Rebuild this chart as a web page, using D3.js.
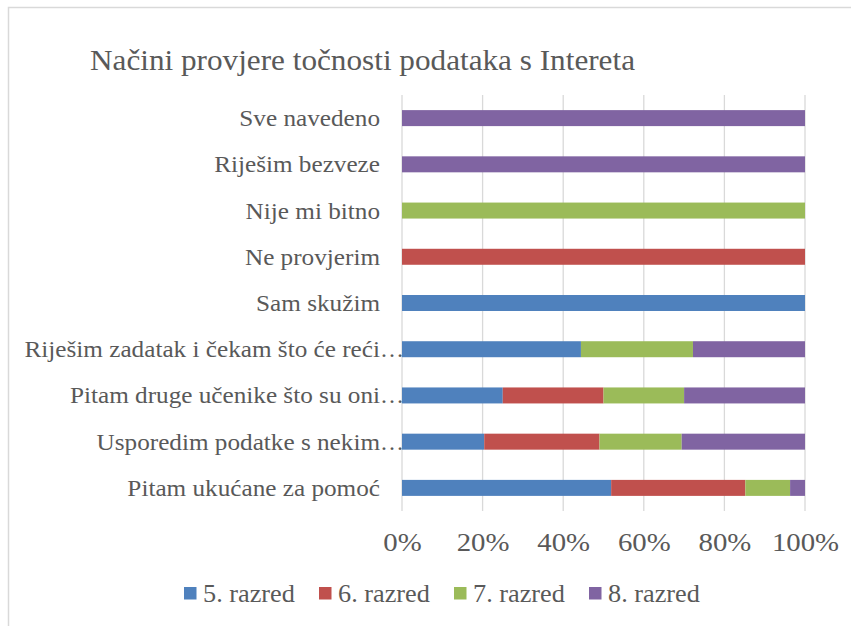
<!DOCTYPE html>
<html>
<head>
<meta charset="utf-8">
<script src="https://cdn.jsdelivr.net/npm/d3@7"></script>
<style>
    body { margin: 0; background: #fff; }
    svg text { font-family: "Liberation Serif", serif; fill: #595959; }
</style>
</head>
<body>
<svg id="chart" width="851" height="626"></svg>
<script>
// chart data, top row first
var categories = [
    "Sve navedeno",
    "Riješim bezveze",
    "Nije mi bitno",
    "Ne provjerim",
    "Sam skužim",
    "Riješim zadatak i čekam što će reći…",
    "Pitam druge učenike što su oni…",
    "Usporedim podatke s nekim…",
    "Pitam ukućane za pomoć"
];
var seriesNames = ["5. razred", "6. razred", "7. razred", "8. razred"];
var razred5 = [0, 0, 0, 0, 100, 44.4, 25, 20.4, 51.9];
var razred6 = [0, 0, 0, 100, 0, 0, 25, 28.6, 33.3];
var razred7 = [0, 0, 100, 0, 0, 27.8, 20, 20.4, 11.1];
var razred8 = [100, 100, 0, 0, 0, 27.8, 30, 30.6, 3.7];
var tickValues = [0, 20, 40, 60, 80, 100];
var colors = ["#4F81BD", "#C0504D", "#9BBB59", "#8064A2"];

var svg = d3.select("#chart");

// the original font (Cambria) is wider than Liberation Serif, so stretch a bit
function widen(sel, k) {
    sel.each(function () {
        var w = this.getComputedTextLength();
        d3.select(this)
            .attr("textLength", w * k)
            .attr("lengthAdjust", "spacingAndGlyphs");
    });
}

// outer frame (runs off right and bottom like the screenshot)
svg.append("rect")
    .attr("x", 8.5).attr("y", 7.5)
    .attr("width", 900).attr("height", 700)
    .attr("fill", "none")
    .attr("stroke", "#d9d9d9")
    .attr("stroke-width", 1.5);

svg.append("text")
    .attr("x", 90).attr("y", 70)
    .attr("font-size", 29.5)
    .text("Načini provjere točnosti podataka s Intereta")
    .attr("textLength", 545)
    .attr("lengthAdjust", "spacingAndGlyphs");

var rows = categories.map(function (c, i) {
    return { cat: c, r5: razred5[i], r6: razred6[i], r7: razred7[i], r8: razred8[i] };
});

var x = d3.scaleLinear().domain([0, 100]).range([402, 805]);
var y = d3.scaleBand().domain(categories).range([95, 511])
    .paddingInner(0.654).paddingOuter(0.327);

// gridlines
svg.append("g")
    .selectAll("line")
    .data(tickValues)
    .enter().append("line")
    .attr("x1", function (d) { return x(d); })
    .attr("x2", function (d) { return x(d); })
    .attr("y1", 95).attr("y2", 511)
    .attr("stroke", "#d9d9d9")
    .attr("stroke-width", 1.3);

var stack = d3.stack().keys(["r5", "r6", "r7", "r8"]);
var layers = stack(rows);

svg.append("g")
    .selectAll("g")
    .data(layers)
    .enter().append("g")
    .attr("fill", function (d, i) { return colors[i]; })
    .selectAll("rect")
    .data(function (d) { return d; })
    .enter().append("rect")
    .attr("x", function (d) { return x(d[0]); })
    .attr("width", function (d) { return x(d[1]) - x(d[0]); })
    .attr("y", function (d) { return y(d.data.cat); })
    .attr("height", y.bandwidth());

// category labels, ellipsis hangs past the right edge
var labels = svg.append("g")
    .selectAll("g")
    .data(categories)
    .enter().append("g");

var labelText = labels.append("text")
    .attr("x", 380)
    .attr("y", function (d) { return y(d) + y.bandwidth() / 2 + 8; })
    .attr("text-anchor", "end")
    .attr("font-size", 24)
    .text(function (d) { return d.replace("…", ""); });
widen(labelText, 1.05);

labels.filter(function (d) { return d.indexOf("…") > -1; })
    .append("text")
    .attr("x", 380)
    .attr("y", function (d) { return y(d) + y.bandwidth() / 2 + 8; })
    .attr("font-size", 24)
    .text("…");

// x axis tick labels
var axis = d3.axisBottom(x)
    .tickValues(tickValues)
    .tickFormat(function (d) { return d + "%"; })
    .tickSize(0)
    .tickPadding(0);

var ax = svg.append("g")
    .attr("transform", "translate(0,533)")
    .call(axis);
ax.select(".domain").remove();
var tickText = ax.selectAll("text")
    .attr("dy", 0).attr("y", 18)
    .attr("font-size", 25.5)
    .attr("font-family", "Liberation Serif")
    .attr("fill", "#595959");
widen(tickText, 1.13);

// legend
var legend = svg.append("g")
    .selectAll("g")
    .data(seriesNames)
    .enter().append("g")
    .attr("transform", function (d, i) { return "translate(" + (184 + i * 135) + ",587)"; });

legend.append("rect")
    .attr("width", 12.5).attr("height", 12.5)
    .attr("fill", function (d, i) { return colors[i]; });

var legendText = legend.append("text")
    .attr("x", 19).attr("y", 14.5)
    .attr("font-size", 25.5)
    .text(function (d) { return d; });
widen(legendText, 1.03);
</script>
</body>
</html>
